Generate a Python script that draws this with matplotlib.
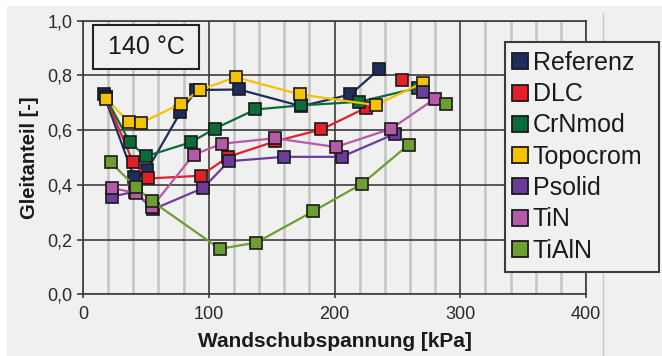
import numpy as np
import matplotlib.pyplot as plt
from matplotlib.lines import Line2D
from matplotlib.patches import Rectangle
from matplotlib.ticker import FuncFormatter

plt.rcParams['font.family'] = ['Liberation Sans', 'DejaVu Sans']

# Werte (Wandschubspannung in kPa, Gleitanteil [-])
names = ['Referenz', 'DLC', 'CrNmod', 'Topocrom', 'Psolid', 'TiN', 'TiAlN']
colors = ['#1f2d5e', '#e3202a', '#0b6b3a', '#f5c200', '#6a3d9a', '#b45aa8', '#6c9e30']

referenz_x = [16.5, 40.6, 51.2, 77.5, 90.2, 124.0, 173.7, 212.7, 235.5]
referenz_y = [0.73, 0.427, 0.455, 0.665, 0.746, 0.748, 0.687, 0.730, 0.822]
dlc_x = [18.0, 39.8, 51.7, 93.6, 115.4, 153.0, 189.6, 224.9, 253.3]
dlc_y = [0.72, 0.482, 0.423, 0.433, 0.502, 0.559, 0.602, 0.681, 0.781]
crnmod_x = [18.0, 37.2, 49.9, 85.7, 104.8, 137.1, 173.5, 219.6, 266.5]
crnmod_y = [0.72, 0.555, 0.504, 0.555, 0.605, 0.675, 0.690, 0.703, 0.754]
topocrom_x = [18.1, 36.4, 46.4, 77.7, 93.4, 121.5, 172.4, 232.9, 270.5]
topocrom_y = [0.715, 0.630, 0.626, 0.696, 0.747, 0.793, 0.730, 0.691, 0.773]
psolid_x = [23.4, 41.0, 55.5, 95.5, 116.0, 159.7, 205.6, 248.5, 270.5]
psolid_y = [0.357, 0.375, 0.310, 0.388, 0.486, 0.502, 0.502, 0.587, 0.740]
tin_x = [23.4, 42.0, 55.0, 88.0, 110.6, 152.5, 201.0, 244.8, 279.8]
tin_y = [0.388, 0.370, 0.320, 0.510, 0.550, 0.570, 0.538, 0.604, 0.714]
tialn_x = [22.0, 41.9, 55.1, 108.8, 137.9, 183.0, 222.0, 259.1, 289.0]
tialn_y = [0.482, 0.392, 0.339, 0.166, 0.189, 0.303, 0.404, 0.547, 0.696]

# Anzahl Punkte, die per Linie verbunden sind (letzter Punkt teils einzeln)
joined = [9, 8, 9, 9, 8, 9, 8]

xs = [referenz_x, dlc_x, crnmod_x, topocrom_x, psolid_x, tin_x, tialn_x]
ys = [referenz_y, dlc_y, crnmod_y, topocrom_y, psolid_y, tin_y, tialn_y]

W, H = 662, 356
fig = plt.figure(figsize=(W / 100, H / 100), dpi=100)
fig.patch.set_facecolor('white')


def fx(px):
    return px / W


def fy(py):
    return 1 - py / H


bg = '#f0f0f0'
fig.patches.append(Rectangle((fx(7), 0), 1 - fx(7), fy(6),
                             transform=fig.transFigure, fc=bg, ec='none', zorder=-10))
fig.lines.append(Line2D([fx(603), fx(603)], [0, fy(13)], transform=fig.transFigure,
                        color='#c8c8c8', lw=1.0, zorder=-5))

ax = fig.add_axes([fx(83), fy(294.3), fx(586) - fx(83), fy(20.5) - fy(294.3)])
ax.set_facecolor('none')
ax.set_xlim(0, 400)
ax.set_ylim(0, 1.0)
ax.set_xticks(np.arange(0, 401, 100))
ax.set_xticks(np.arange(0, 401, 20), minor=True)
ax.set_yticks(np.arange(0, 1.01, 0.2))
ax.yaxis.set_major_formatter(FuncFormatter(lambda v, p: f'{v:.1f}'.replace('.', ',')))

ax.grid(which='minor', axis='x', color='#c6c6c6', lw=1.9, zorder=0)
ax.grid(which='major', color='#3c3c3c', lw=1.2, zorder=1)
ax.set_axisbelow(True)
for s in ax.spines.values():
    s.set_color('#3c3c3c')
    s.set_linewidth(1.2)

ax.tick_params(which='minor', length=0)
ax.tick_params(axis='x', which='major', direction='out', length=3, width=1.2,
               color='#3c3c3c', pad=5.2, labelsize=13, labelcolor='#2a2a2a')
ax.tick_params(axis='y', which='major', direction='out', length=4.3, width=1.2,
               color='#3c3c3c', pad=3.5, labelsize=13, labelcolor='#2a2a2a')

ax.set_xlabel('Wandschubspannung [kPa]', fontsize=15, fontweight='bold', color='#1a1a1a',
              va='top')
ax.xaxis.set_label_coords(0.5, -0.136)
ax.set_ylabel('Gleitanteil [-]', fontsize=14.5, fontweight='bold', color='#1a1a1a')
ax.yaxis.set_label_coords(-0.087, 0.5)

for i, (name, c) in enumerate(zip(names, colors)):
    x, y, n = xs[i], ys[i], joined[i]
    ax.plot(x[:n], y[:n], color=c, lw=1.6, zorder=3 + i, clip_on=False)
    ax.plot(x, y, ls='none', marker='s', ms=8, mfc=c, mec='#1a1a1a', mew=1.2,
            zorder=3 + i, clip_on=False)

# Temperatur-Kasten
fig.patches.append(Rectangle((fx(93), fy(69)), fx(199) - fx(93), fy(25) - fy(69),
                             transform=fig.transFigure, fc=bg, ec='#222222', lw=1.5, zorder=2))
fig.text(fx(146), fy(47), '140 °C', fontsize=18, ha='center', va='center',
         color='#1a1a1a', zorder=3)

# Legende
fig.patches.append(Rectangle((fx(505), fy(272)), fx(659) - fx(505), fy(42) - fy(272),
                             transform=fig.transFigure, fc=bg, ec='#3c3c3c', lw=1.5, zorder=2))
handles = [Line2D([], [], ls='none', marker='s', ms=11.5, mfc=c, mec='#1a1a1a', mew=1.3)
           for c in colors]
leg = fig.legend(handles, names, loc='upper left', bbox_to_anchor=(fx(511.5), fy(51)),
                 bbox_transform=fig.transFigure, frameon=False, borderpad=0,
                 borderaxespad=0, fontsize=18, handlelength=0.7, handletextpad=0.15,
                 labelspacing=0.29)
leg.set_zorder(4)
for t in leg.get_texts():
    t.set_color('#1a1a1a')

fig.savefig('out.png', dpi=100, facecolor=fig.get_facecolor())
